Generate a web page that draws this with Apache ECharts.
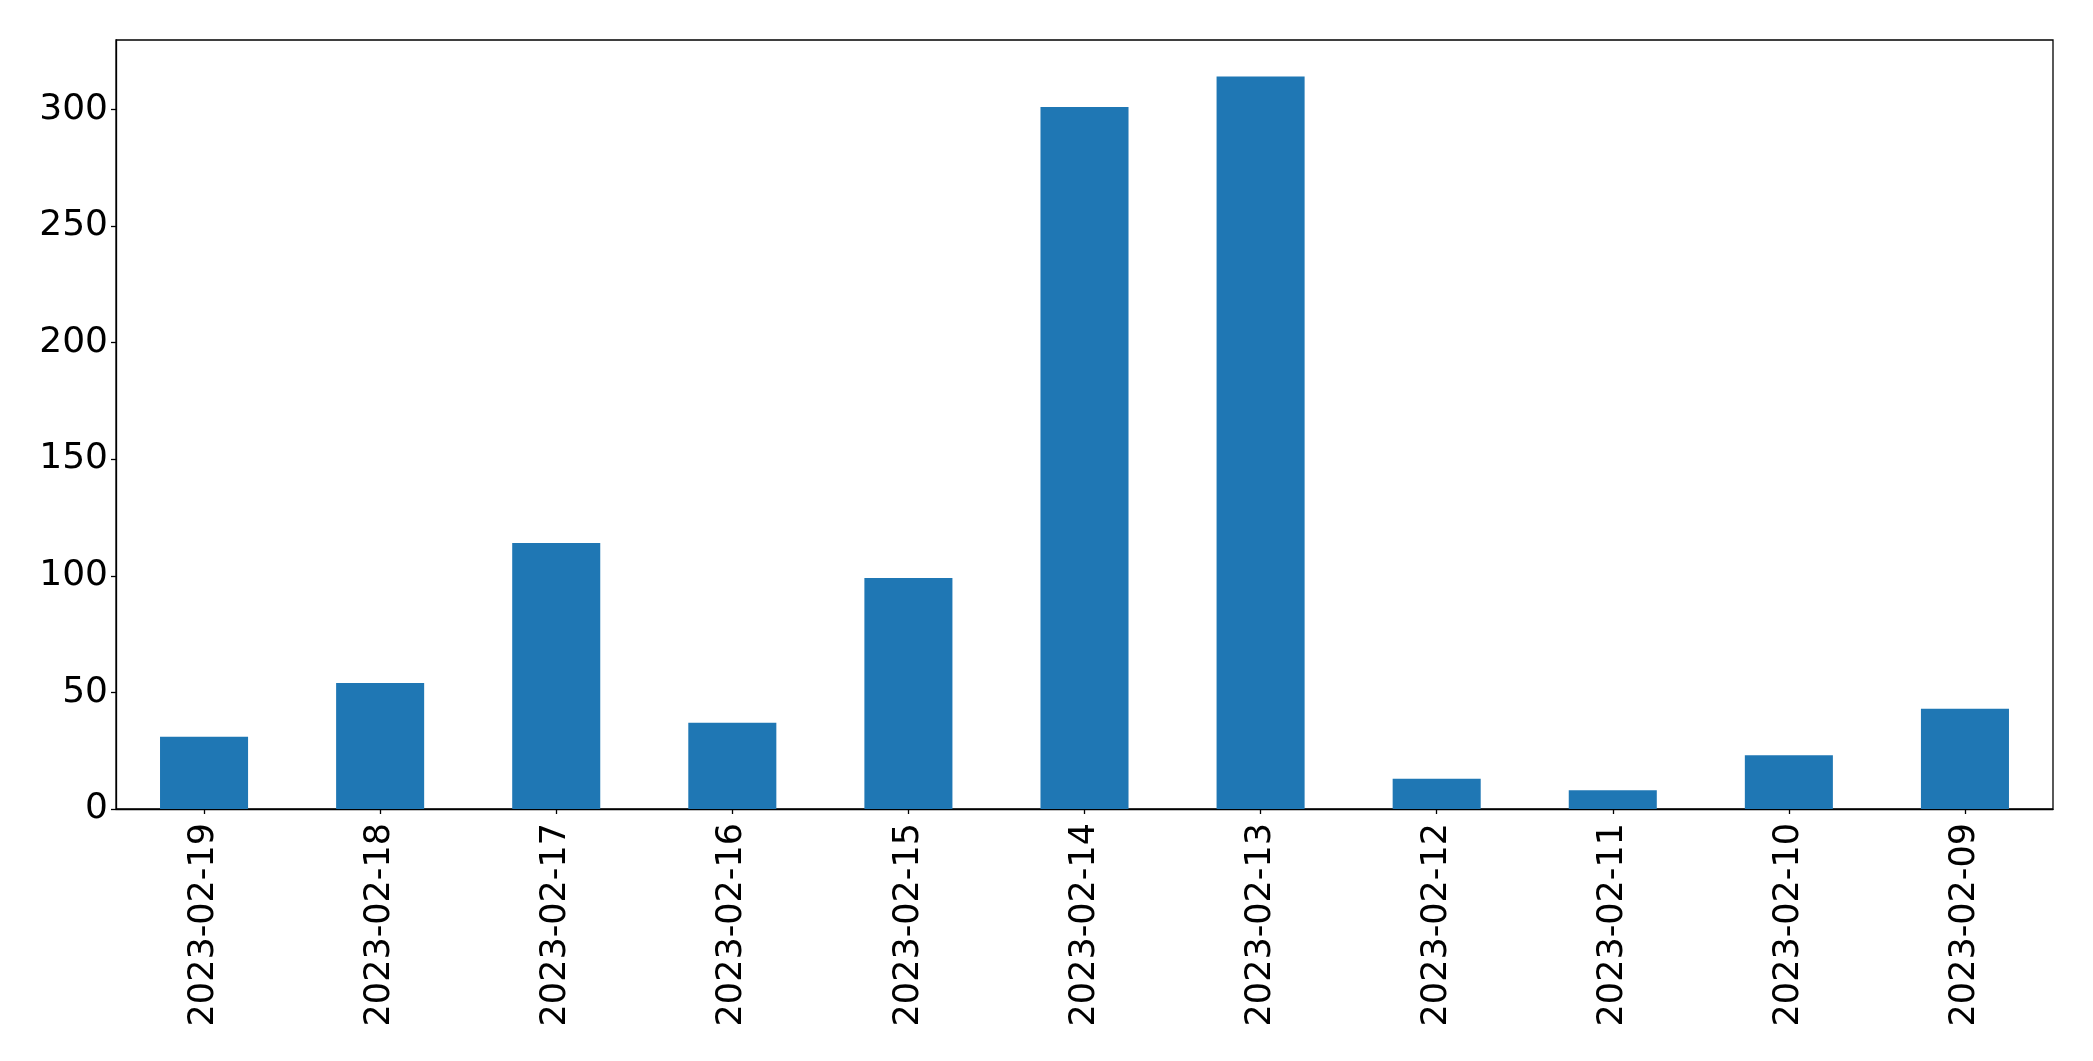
<!DOCTYPE html>
<html>
<head>
<meta charset="utf-8">
<script src="https://cdn.jsdelivr.net/npm/echarts@6/dist/echarts.min.js"></script>
<style>html,body{margin:0;padding:0;background:#fff}#c{width:2093px;height:1061px}</style>
</head>
<body>
<div id="c"></div>
<script>
const categories = ['2023-02-19','2023-02-18','2023-02-17','2023-02-16','2023-02-15','2023-02-14','2023-02-13','2023-02-12','2023-02-11','2023-02-10','2023-02-09'];
const counts = [31, 54, 114, 37, 99, 301, 314, 13, 8, 23, 43];
const yTicks = [0, 50, 100, 150, 200, 250, 300];

const chart = echarts.init(document.getElementById('c'), null, {renderer: 'canvas'});
const font = 'DejaVu Sans';
chart.setOption({
  animation: false,
  backgroundColor: '#ffffff',
  grid: {left: 116, right: 40, top: 40, bottom: 252, show: true, borderColor: '#000', borderWidth: 1.3, backgroundColor: 'transparent'},
  xAxis: {
    type: 'category',
    data: categories,
    boundaryGap: true,
    axisLine: {show: true, lineStyle: {color: '#000', width: 1.3}},
    axisTick: {show: true, alignWithLabel: true, length: 5, lineStyle: {color: '#000', width: 1.3}},
    axisLabel: {rotate: 90, margin: 14, fontFamily: font, fontSize: 35, color: '#000'}
  },
  yAxis: {
    type: 'value',
    min: 0,
    max: 329.7,
    interval: 50,
    splitLine: {show: false},
    axisLine: {show: true, lineStyle: {color: '#000', width: 1.3}},
    axisTick: {show: true, length: 5, lineStyle: {color: '#000', width: 1.3}},
    axisLabel: {showMaxLabel: false, margin: 8, fontFamily: font, fontSize: 36, color: '#000',
      formatter: v => yTicks.includes(v) ? String(v) : ''}
  },
  series: [{
    type: 'bar',
    data: counts,
    barWidth: '50%',
    itemStyle: {color: '#1f77b4'}
  }]
});
</script>
</body>
</html>
